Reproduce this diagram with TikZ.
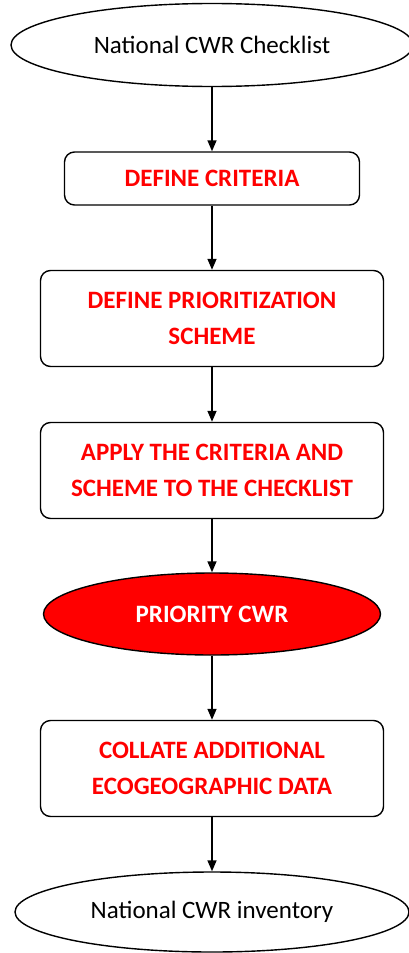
\documentclass[tikz,border=0pt]{standalone}
\usepackage{fontspec}
\setmainfont{Carlito}
\usepackage{tikz}
\usetikzlibrary{shapes.geometric, arrows.meta, positioning}
\definecolor{cwrred}{RGB}{255, 0, 0}

\begin{document}
\begin{tikzpicture}[
  x=1pt, y=-1pt,
  endoval/.style={draw, ellipse, line width=1.4pt, inner sep=0pt, font=\fontsize{25}{30}\selectfont},
  stepbox/.style={draw, rounded corners=10pt, line width=1.4pt, minimum width=343pt, minimum height=96pt, align=center, text=cwrred, font=\fontsize{25}{36}\selectfont\bfseries},
  priooval/.style={draw, ellipse, fill=cwrred, line width=1.4pt, minimum width=337pt, minimum height=82pt, inner sep=0pt, text=white, font=\fontsize{25}{30}\selectfont\bfseries},
  flowarrow/.style={-{Triangle[width=9pt, length=11pt]}, line width=1.4pt}
]
  \useasboundingbox (0, 0) rectangle (409, 953);

  \node[endoval, minimum width=402pt, minimum height=83pt] (checklist) at (212, 45) {National CWR Checklist};
  \node[stepbox, minimum width=295pt, minimum height=53pt] (criteria) at (212, 178.5) {DEFINE CRITERIA};
  \node[stepbox] (scheme) at (212, 318.5) {DEFINE PRIORITIZATION\\SCHEME};
  \node[stepbox] (apply) at (212, 470.5) {APPLY THE CRITERIA AND\\SCHEME TO THE CHECKLIST};
  \node[priooval] (priority) at (212, 614) {PRIORITY CWR};
  \node[stepbox] (collate) at (212, 768.5) {COLLATE ADDITIONAL\\ECOGEOGRAPHIC DATA};
  \node[endoval, minimum width=394pt, minimum height=80pt] (inventory) at (212, 912) {National CWR inventory};

  \draw[flowarrow] (checklist) -- (criteria);
  \draw[flowarrow] (criteria) -- (scheme);
  \draw[flowarrow] (scheme) -- (apply);
  \draw[flowarrow] (apply) -- (priority);
  \draw[flowarrow] (priority) -- (collate);
  \draw[flowarrow] (collate) -- (inventory);
\end{tikzpicture}
\end{document}
